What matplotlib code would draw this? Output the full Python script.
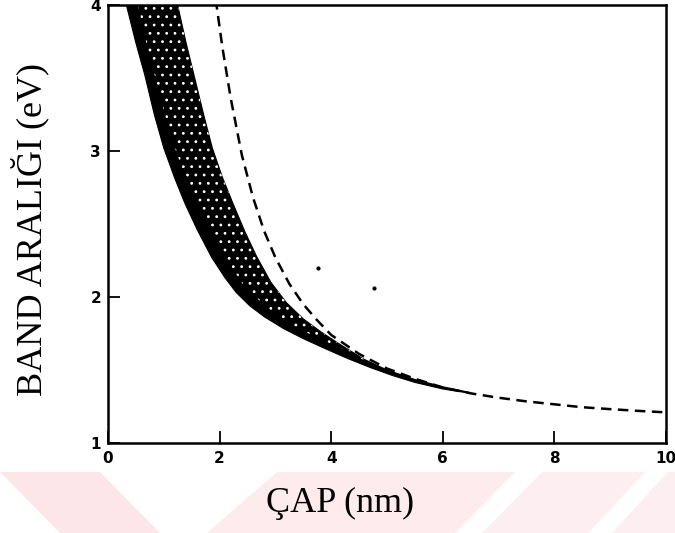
import matplotlib
matplotlib.use("Agg")
import matplotlib.pyplot as plt
from matplotlib.patches import Polygon

# ---- data ----
# dashed curve (diameter nm, band gap eV)
dash_x = [1.93, 2.05, 2.20, 2.40, 2.60, 2.80, 3.00, 3.25, 3.50, 3.75, 4.00, 4.50,
          5.00, 5.50, 6.00, 6.50, 7.00, 7.50, 8.00, 8.50, 9.00, 9.50, 10.0]
dash_y = [4.04, 3.71, 3.36, 2.97, 2.68, 2.45, 2.27, 2.09, 1.95, 1.84, 1.74, 1.61,
          1.51, 1.44, 1.38, 1.34, 1.31, 1.285, 1.265, 1.245, 1.232, 1.22, 1.21]

# dotted band: upper (right) edge
band_up_x = [1.23, 1.40, 1.56, 1.72, 1.87, 2.05, 2.24, 2.45, 2.66, 2.92, 3.20, 3.50,
             3.82, 4.16, 4.58, 5.00, 5.50, 6.00, 6.50]
band_up_y = [4.03, 3.74, 3.49, 3.24, 3.02, 2.82, 2.64, 2.45, 2.28, 2.10, 1.96, 1.85,
             1.76, 1.675, 1.575, 1.50, 1.435, 1.385, 1.345]
# dotted band: lower (left) edge
band_lo_x = [0.31, 0.50, 0.66, 0.83, 1.00, 1.20, 1.38, 1.60, 1.86, 2.10, 2.30, 2.54,
             2.80, 3.14, 3.50, 3.90, 4.30, 4.70, 5.10, 5.50, 6.00, 6.50]
band_lo_y = [4.03, 3.74, 3.52, 3.25, 3.02, 2.81, 2.64, 2.46, 2.27, 2.13, 2.03, 1.94,
             1.865, 1.785, 1.715, 1.645, 1.578, 1.517, 1.462, 1.415, 1.37, 1.34]
# boundary between the solid black strip and the speckled part of the band
core_x = [0.52, 0.70, 0.87, 1.04, 1.20, 1.40, 1.60, 1.84, 2.10, 2.45, 2.90, 3.30,
          3.70, 4.20, 4.58]
core_y = [4.03, 3.72, 3.47, 3.22, 3.02, 2.81, 2.64, 2.45, 2.27, 2.07, 1.91, 1.81,
          1.73, 1.645, 1.568]

# isolated stray points
stray_x = [3.76, 4.77]
stray_y = [2.20, 2.06]

x_ticks = [0, 2, 4, 6, 8, 10]
y_ticks = [1, 2, 3, 4]

W, H = 675, 533
fig = plt.figure(figsize=(W / 100, H / 100), dpi=100)

# faint pink watermark stripes below the plot (pixel coords, top-left origin)
def px(pts):
    return [(x / W, 1 - y / H) for x, y in pts]

stripes = [
    [(0, 472), (100, 472), (160, 533), (60, 533)],
    [(277, 472), (515, 472), (455, 533), (207, 533)],
    [(542, 472), (645, 472), (588, 533), (482, 533)],
    [(668, 472), (675, 472), (675, 533), (612, 533)],
]
cols = ["#fce6ea", "#fdebee", "#fdeef1", "#fdeef1"]
for s, c in zip(stripes, cols):
    fig.patches.append(Polygon(px(s), closed=True, transform=fig.transFigure,
                               facecolor=c, edgecolor="none", zorder=0))

ax = fig.add_axes([108 / W, 1 - 443 / H, (666 - 108) / W, (443 - 5) / H])
ax.set_xlim(0, 10)
ax.set_ylim(1, 4)

# band of dots
poly_x = band_up_x + band_lo_x[::-1]
poly_y = band_up_y + band_lo_y[::-1]
ax.fill(poly_x, poly_y, facecolor="black", edgecolor="black", linewidth=0.8, zorder=2)
plt.rcParams["hatch.linewidth"] = 0.8
n_sp = band_up_x.index(4.58) + 1
sp_x = band_up_x[:n_sp] + core_x[::-1]
sp_y = band_up_y[:n_sp] + core_y[::-1]
ax.fill(sp_x, sp_y, facecolor="none", edgecolor="white", hatch="..", linewidth=0, zorder=3)

# dashed curve
ax.plot(dash_x, dash_y, color="black", lw=1.8, linestyle=(0, (4.2, 2.6)), zorder=4)

ax.scatter(stray_x, stray_y, s=4, color="black", zorder=4)

for sp in ax.spines.values():
    sp.set_linewidth(1.8)
    sp.set_color("black")

tick_font = dict(family=["Liberation Sans Narrow", "DejaVu Sans"], weight="bold", size=11)
ax.set_xticks(x_ticks)
ax.set_yticks(y_ticks)
ax.set_xticklabels([str(v) for v in x_ticks], fontdict=tick_font)
ax.set_yticklabels([str(v) for v in y_ticks], fontdict=tick_font)
ax.tick_params(axis="x", direction="in", length=8.5, width=1.3, pad=6, top=False)
ax.tick_params(axis="y", direction="in", length=8.5, width=1.3, pad=5, right=False)

label_font = dict(family=["Liberation Serif", "DejaVu Serif"], size=26)
fig.text(340 / W, 1 - 503 / H, "ÇAP (nm)", ha="center", va="center", **label_font)
fig.text(30 / W, 1 - 230 / H, "BAND ARALIĞI (eV)", ha="center", va="center",
         rotation=90, **label_font)

fig.savefig("out.png", dpi=100)
